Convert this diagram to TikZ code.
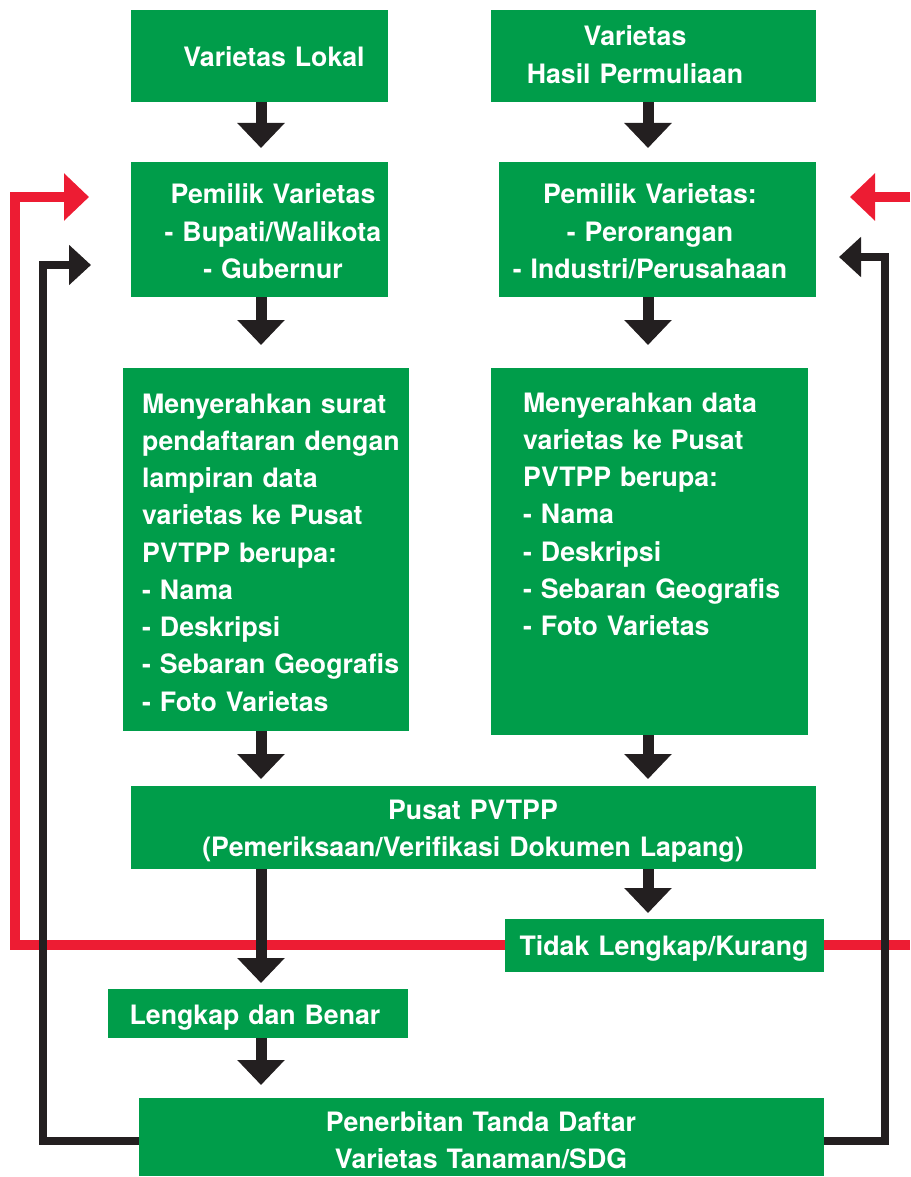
\documentclass[tikz,border=0pt]{standalone}
\usepackage{fontspec}
\setmainfont{TeX Gyre Heros}
\usetikzlibrary{arrows.meta}
\definecolor{vgreen}{RGB}{0,157,74}
\definecolor{vred}{RGB}{237,28,51}
\definecolor{vblack}{RGB}{35,31,32}
\begin{document}
\begin{tikzpicture}[x=1pt,y=-1pt,
  box/.style={fill=vgreen, draw=none, inner sep=0pt, outer sep=0pt, anchor=north west},
  txt/.style={text=white, font=\bfseries\fontsize{26.7}{37.25}\selectfont, inner sep=0pt, anchor=base, align=center, text width=#1},
  ltxt/.style={text=white, font=\bfseries\fontsize{26.7}{37.25}\selectfont, inner sep=0pt, anchor=base west, align=left, text width=#1},
  downarrow/.style={draw=vblack, line width=11pt, -{Triangle[width=46pt,length=25pt]}},
  redloop/.style={draw=vred, line width=10pt, line join=miter},
  redarrow/.style={redloop, -{Triangle[width=46pt,length=25pt]}},
  blackloop/.style={draw=vblack, line width=8pt, line join=miter, -{Triangle[width=39pt,length=22pt]}}
]
\path[use as bounding box] (0,0) rectangle (910,1177);

% boxes
\node[box, minimum width=257pt, minimum height=92pt]  (A) at (131,10) {};
\node[box, minimum width=325pt, minimum height=92pt]  (B) at (491,10) {};
\node[box, minimum width=257pt, minimum height=135pt] (C) at (131,162) {};
\node[box, minimum width=317pt, minimum height=135pt] (D) at (499,162) {};
\node[box, minimum width=286pt, minimum height=363pt] (E) at (123,368) {};
\node[box, minimum width=317pt, minimum height=367pt] (F) at (491,368) {};
\node[box, minimum width=685pt, minimum height=83pt]  (G) at (131,786) {};
\node[box, minimum width=319pt, minimum height=53pt]  (H) at (505,919) {};
\node[box, minimum width=300pt, minimum height=49pt]  (I) at (108,989) {};
\node[box, minimum width=685pt, minimum height=78pt]  (J) at (139,1098) {};

% texts
\node[txt=250pt] (At) at (274,67) {Varietas Lokal};
\node[txt=300pt] (Bt) at (635,46) {Varietas\\Hasil Permuliaan};
\node[txt=250pt] (Ct) at (273,204) {Pemilik Varietas\\- Bupati/Walikota\\- Gubernur};
\node[txt=300pt] (Dt) at (650,204) {Pemilik Varietas:\\- Perorangan\\- Industri/Perusahaan};
\node[ltxt=300pt] (Et) at (142,413) {Menyerahkan surat\\pendaftaran dengan\\lampiran data\\varietas ke Pusat\\PVTPP berupa:\\- Nama\\- Deskripsi\\- Sebaran Geografis\\- Foto Varietas};
\node[ltxt=300pt] (Ft) at (523,412) {Menyerahkan data\\varietas ke Pusat\\PVTPP berupa:\\- Nama\\- Deskripsi\\- Sebaran Geografis\\- Foto Varietas};
\node[txt=650pt] (Gt) at (473,819) {Pusat PVTPP\\(Pemeriksaan/Verifikasi Dokumen Lapang)};
\node[txt=310pt] (Ht) at (664,955) {Tidak Lengkap/Kurang};
\node[txt=290pt] (It) at (255,1024) {Lengkap dan Benar};
\node[txt=650pt] (Jt) at (481,1131) {Penerbitan Tanda Daftar\\Varietas Tanaman/SDG};

% helper coordinates
\coordinate (colL) at (261,0);
\coordinate (colR) at (648,0);
\coordinate (RL1) at (15,945);
\coordinate (RL2) at (15,197);
\coordinate (RLtip) at (89,197);
\coordinate (RRedge) at (910,945);
\coordinate (RRtop) at (910,197);
\coordinate (RRtip) at (850,197);
\coordinate (BL1) at (43,1141);
\coordinate (BL2) at (43,265);
\coordinate (BLtip) at (91,265);
\coordinate (BR1) at (885,1141);
\coordinate (BR2) at (885,257);
\coordinate (BRtip) at (839,257);

% red feedback
\draw[redarrow] (H.west |- RL1) -- (RL1) -- (RL2) -- (RLtip);
\draw[redloop] (H.east |- RL1) -- (RRedge);
\draw[redarrow] (RRtop) -- (RRtip);

% black feedback
\draw[blackloop] (J.west |- BL1) -- (BL1) -- (BL2) -- (BLtip);
\draw[blackloop] (J.east |- BR1) -- (BR1) -- (BR2) -- (BRtip);

% down arrows
\draw[downarrow, shorten >=14pt] (A.south -| colL) -- (C.north -| colL);
\draw[downarrow, shorten >=14pt] (B.south -| colR) -- (D.north -| colR);
\draw[downarrow, shorten >=23pt] (C.south -| colL) -- (E.north -| colL);
\draw[downarrow, shorten >=23pt] (D.south -| colR) -- (F.north -| colR);
\draw[downarrow, shorten >=7pt] (E.south -| colL) -- (G.north -| colL);
\draw[downarrow, shorten >=7pt] (F.south -| colR) -- (G.north -| colR);
\draw[downarrow, shorten >=6pt] (G.south -| colR) -- (H.north -| colR);
\draw[downarrow, shorten >=6pt] (G.south -| colL) -- (I.north -| colL);
\draw[downarrow, shorten >=13pt] (I.south -| colL) -- (J.north -| colL);
\end{tikzpicture}
\end{document}
